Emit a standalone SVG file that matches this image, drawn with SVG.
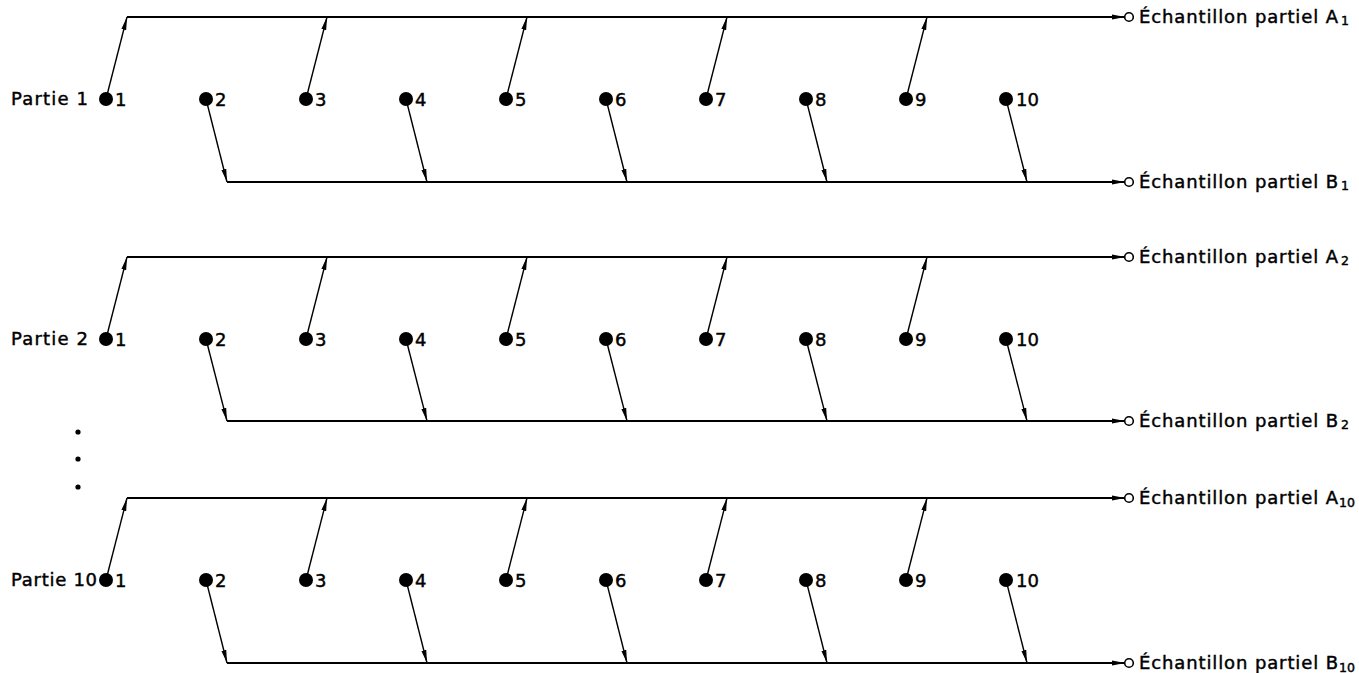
<svg xmlns="http://www.w3.org/2000/svg" width="1359" height="673" viewBox="0 0 1359 673">
<style>
text{font-family:"DejaVu Sans","Liberation Sans",sans-serif;fill:#000;stroke:#000;stroke-width:0.45}
.lbl{font-size:18px}
.num{font-size:18px}
.sub{font-size:12.5px}
.dot{fill:#000}
.out{fill:#fff;stroke:#000;stroke-width:1.6}
.bus{stroke:#000;stroke-width:2;fill:none}
.lnk{stroke:#000;stroke-width:1.4;fill:none}
</style>
<defs>
<marker id="ah" markerUnits="userSpaceOnUse" markerWidth="14" markerHeight="6" refX="13" refY="3" orient="auto">
<path d="M0,0.5 L13,3 L0,5.5 z" fill="#000"/>
</marker>
</defs>
<rect width="1359" height="673" fill="#fff"/>

<g id="connectors">
<!-- Row 1 -->
<line class="bus" x1="127" y1="17" x2="1125" y2="17" marker-end="url(#ah)"/>
<line class="bus" x1="227" y1="182" x2="1125" y2="182" marker-end="url(#ah)"/>
<line class="lnk" x1="106" y1="99" x2="127" y2="17" marker-end="url(#ah)"/>
<line class="lnk" x1="306" y1="99" x2="327" y2="17" marker-end="url(#ah)"/>
<line class="lnk" x1="506" y1="99" x2="527" y2="17" marker-end="url(#ah)"/>
<line class="lnk" x1="706" y1="99" x2="727" y2="17" marker-end="url(#ah)"/>
<line class="lnk" x1="906" y1="99" x2="927" y2="17" marker-end="url(#ah)"/>
<line class="lnk" x1="206" y1="99" x2="227" y2="182" marker-end="url(#ah)"/>
<line class="lnk" x1="406" y1="99" x2="427" y2="182" marker-end="url(#ah)"/>
<line class="lnk" x1="606" y1="99" x2="627" y2="182" marker-end="url(#ah)"/>
<line class="lnk" x1="806" y1="99" x2="827" y2="182" marker-end="url(#ah)"/>
<line class="lnk" x1="1006" y1="99" x2="1027" y2="182" marker-end="url(#ah)"/>
<!-- Row 2 -->
<line class="bus" x1="127" y1="257" x2="1125" y2="257" marker-end="url(#ah)"/>
<line class="bus" x1="227" y1="421" x2="1125" y2="421" marker-end="url(#ah)"/>
<line class="lnk" x1="106" y1="339" x2="127" y2="257" marker-end="url(#ah)"/>
<line class="lnk" x1="306" y1="339" x2="327" y2="257" marker-end="url(#ah)"/>
<line class="lnk" x1="506" y1="339" x2="527" y2="257" marker-end="url(#ah)"/>
<line class="lnk" x1="706" y1="339" x2="727" y2="257" marker-end="url(#ah)"/>
<line class="lnk" x1="906" y1="339" x2="927" y2="257" marker-end="url(#ah)"/>
<line class="lnk" x1="206" y1="339" x2="227" y2="421" marker-end="url(#ah)"/>
<line class="lnk" x1="406" y1="339" x2="427" y2="421" marker-end="url(#ah)"/>
<line class="lnk" x1="606" y1="339" x2="627" y2="421" marker-end="url(#ah)"/>
<line class="lnk" x1="806" y1="339" x2="827" y2="421" marker-end="url(#ah)"/>
<line class="lnk" x1="1006" y1="339" x2="1027" y2="421" marker-end="url(#ah)"/>
<!-- Row 3 -->
<line class="bus" x1="127" y1="498" x2="1125" y2="498" marker-end="url(#ah)"/>
<line class="bus" x1="227" y1="663" x2="1125" y2="663" marker-end="url(#ah)"/>
<line class="lnk" x1="106" y1="580" x2="127" y2="498" marker-end="url(#ah)"/>
<line class="lnk" x1="306" y1="580" x2="327" y2="498" marker-end="url(#ah)"/>
<line class="lnk" x1="506" y1="580" x2="527" y2="498" marker-end="url(#ah)"/>
<line class="lnk" x1="706" y1="580" x2="727" y2="498" marker-end="url(#ah)"/>
<line class="lnk" x1="906" y1="580" x2="927" y2="498" marker-end="url(#ah)"/>
<line class="lnk" x1="206" y1="580" x2="227" y2="663" marker-end="url(#ah)"/>
<line class="lnk" x1="406" y1="580" x2="427" y2="663" marker-end="url(#ah)"/>
<line class="lnk" x1="606" y1="580" x2="627" y2="663" marker-end="url(#ah)"/>
<line class="lnk" x1="806" y1="580" x2="827" y2="663" marker-end="url(#ah)"/>
<line class="lnk" x1="1006" y1="580" x2="1027" y2="663" marker-end="url(#ah)"/>
</g>

<!-- Part labels -->
<g id="partie-1"><text class="lbl" x="11" y="105" textLength="77" lengthAdjust="spacing">Partie 1</text></g>
<g id="partie-2"><text class="lbl" x="11" y="345" textLength="77" lengthAdjust="spacing">Partie 2</text></g>
<g id="partie-10"><text class="lbl" x="11" y="586" textLength="86" lengthAdjust="spacing">Partie 10</text></g>

<g id="ellipsis">
<circle class="dot" cx="78" cy="432" r="2.6"/>
<circle class="dot" cx="78" cy="459" r="2.6"/>
<circle class="dot" cx="78" cy="487" r="2.6"/>
</g>

<!-- Row 1 nodes -->
<g id="r1-n1"><circle class="dot" cx="106" cy="99" r="7"/><text class="num" x="115" y="106">1</text></g>
<g id="r1-n2"><circle class="dot" cx="206" cy="99" r="7"/><text class="num" x="215" y="106">2</text></g>
<g id="r1-n3"><circle class="dot" cx="306" cy="99" r="7"/><text class="num" x="315" y="106">3</text></g>
<g id="r1-n4"><circle class="dot" cx="406" cy="99" r="7"/><text class="num" x="415" y="106">4</text></g>
<g id="r1-n5"><circle class="dot" cx="506" cy="99" r="7"/><text class="num" x="515" y="106">5</text></g>
<g id="r1-n6"><circle class="dot" cx="606" cy="99" r="7"/><text class="num" x="615" y="106">6</text></g>
<g id="r1-n7"><circle class="dot" cx="706" cy="99" r="7"/><text class="num" x="715" y="106">7</text></g>
<g id="r1-n8"><circle class="dot" cx="806" cy="99" r="7"/><text class="num" x="815" y="106">8</text></g>
<g id="r1-n9"><circle class="dot" cx="906" cy="99" r="7"/><text class="num" x="915" y="106">9</text></g>
<g id="r1-n10"><circle class="dot" cx="1006" cy="99" r="7"/><text class="num" x="1016" y="106">10</text></g>

<!-- Row 2 nodes -->
<g id="r2-n1"><circle class="dot" cx="106" cy="339" r="7"/><text class="num" x="115" y="346">1</text></g>
<g id="r2-n2"><circle class="dot" cx="206" cy="339" r="7"/><text class="num" x="215" y="346">2</text></g>
<g id="r2-n3"><circle class="dot" cx="306" cy="339" r="7"/><text class="num" x="315" y="346">3</text></g>
<g id="r2-n4"><circle class="dot" cx="406" cy="339" r="7"/><text class="num" x="415" y="346">4</text></g>
<g id="r2-n5"><circle class="dot" cx="506" cy="339" r="7"/><text class="num" x="515" y="346">5</text></g>
<g id="r2-n6"><circle class="dot" cx="606" cy="339" r="7"/><text class="num" x="615" y="346">6</text></g>
<g id="r2-n7"><circle class="dot" cx="706" cy="339" r="7"/><text class="num" x="715" y="346">7</text></g>
<g id="r2-n8"><circle class="dot" cx="806" cy="339" r="7"/><text class="num" x="815" y="346">8</text></g>
<g id="r2-n9"><circle class="dot" cx="906" cy="339" r="7"/><text class="num" x="915" y="346">9</text></g>
<g id="r2-n10"><circle class="dot" cx="1006" cy="339" r="7"/><text class="num" x="1016" y="346">10</text></g>

<!-- Row 3 nodes -->
<g id="r3-n1"><circle class="dot" cx="106" cy="580" r="7"/><text class="num" x="115" y="587">1</text></g>
<g id="r3-n2"><circle class="dot" cx="206" cy="580" r="7"/><text class="num" x="215" y="587">2</text></g>
<g id="r3-n3"><circle class="dot" cx="306" cy="580" r="7"/><text class="num" x="315" y="587">3</text></g>
<g id="r3-n4"><circle class="dot" cx="406" cy="580" r="7"/><text class="num" x="415" y="587">4</text></g>
<g id="r3-n5"><circle class="dot" cx="506" cy="580" r="7"/><text class="num" x="515" y="587">5</text></g>
<g id="r3-n6"><circle class="dot" cx="606" cy="580" r="7"/><text class="num" x="615" y="587">6</text></g>
<g id="r3-n7"><circle class="dot" cx="706" cy="580" r="7"/><text class="num" x="715" y="587">7</text></g>
<g id="r3-n8"><circle class="dot" cx="806" cy="580" r="7"/><text class="num" x="815" y="587">8</text></g>
<g id="r3-n9"><circle class="dot" cx="906" cy="580" r="7"/><text class="num" x="915" y="587">9</text></g>
<g id="r3-n10"><circle class="dot" cx="1006" cy="580" r="7"/><text class="num" x="1016" y="587">10</text></g>

<!-- Output samples -->
<g id="out-A1"><circle class="out" cx="1129" cy="17" r="4.3"/><text class="lbl" x="1139" y="23" textLength="199" lengthAdjust="spacing">Échantillon partiel A</text><text class="sub" x="1341" y="25">1</text></g>
<g id="out-B1"><circle class="out" cx="1129" cy="182" r="4.3"/><text class="lbl" x="1139" y="188" textLength="199" lengthAdjust="spacing">Échantillon partiel B</text><text class="sub" x="1341" y="190">1</text></g>
<g id="out-A2"><circle class="out" cx="1129" cy="257" r="4.3"/><text class="lbl" x="1139" y="263" textLength="199" lengthAdjust="spacing">Échantillon partiel A</text><text class="sub" x="1341" y="265">2</text></g>
<g id="out-B2"><circle class="out" cx="1129" cy="421" r="4.3"/><text class="lbl" x="1139" y="427" textLength="199" lengthAdjust="spacing">Échantillon partiel B</text><text class="sub" x="1341" y="429">2</text></g>
<g id="out-A10"><circle class="out" cx="1129" cy="498" r="4.3"/><text class="lbl" x="1139" y="504" textLength="199" lengthAdjust="spacing">Échantillon partiel A</text><text class="sub" x="1339" y="507">10</text></g>
<g id="out-B10"><circle class="out" cx="1129" cy="663" r="4.3"/><text class="lbl" x="1139" y="669" textLength="199" lengthAdjust="spacing">Échantillon partiel B</text><text class="sub" x="1339" y="672">10</text></g>
</svg>
